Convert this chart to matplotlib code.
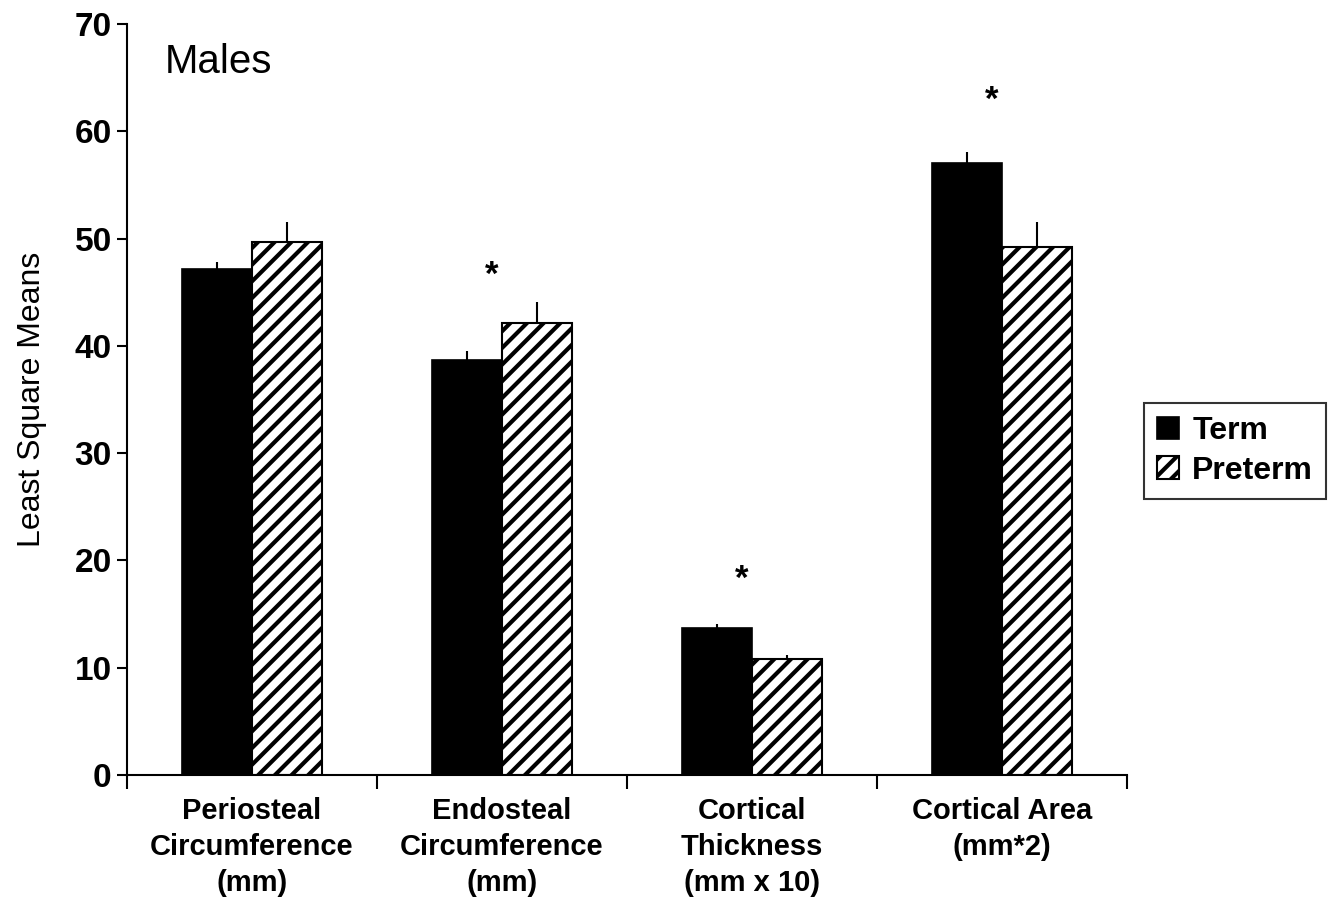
import matplotlib
matplotlib.use("Agg")
import matplotlib.pyplot as plt
import numpy as np

plt.rcParams['font.family'] = ['Liberation Sans', 'DejaVu Sans']
plt.rcParams['hatch.linewidth'] = 3.0

categories = ["Periosteal\nCircumference\n(mm)", "Endosteal\nCircumference\n(mm)",
              "Cortical\nThickness\n(mm x 10)", "Cortical Area\n(mm*2)"]
term_means = [47.2, 38.7, 13.7, 57.0]
term_err = [0.6, 0.8, 0.4, 1.1]
preterm_means = [49.7, 42.1, 10.8, 49.2]
preterm_err = [1.8, 2.0, 0.4, 2.3]
significant = [False, True, True, True]
star_y = [0, 46.6, 18.2, 62.9]
yticks = [0, 10, 20, 30, 40, 50, 60, 70]

fig = plt.figure(figsize=(13.38, 9.09), dpi=100)
ax = fig.add_axes([127 / 1338, 1 - 775 / 909, 1000 / 1338, (775 - 24) / 909])

x = np.arange(len(categories)) + 0.5
w = 0.28
ax.bar(x - w / 2, term_means, width=w, color='black', edgecolor='black',
       linewidth=1.2, label='Term', zorder=2)
ax.bar(x + w / 2, preterm_means, width=w, color='white', edgecolor='black',
       hatch='//', linewidth=1.5, label='Preterm', zorder=2)

# upper-only error whiskers
ax.errorbar(x - w / 2, term_means, yerr=[np.zeros(4), term_err], fmt='none',
            ecolor='black', elinewidth=1.5, capsize=0, zorder=3)
ax.errorbar(x + w / 2, preterm_means, yerr=[np.zeros(4), preterm_err], fmt='none',
            ecolor='black', elinewidth=1.5, capsize=0, zorder=3)

for xi, sig, sy in zip(x, significant, star_y):
    if sig:
        ax.text(xi - 0.04, sy, '*', ha='center', va='center', fontsize=25,
                fontweight='bold')

ax.set_xlim(0, 4)
ax.set_ylim(0, 70)
ax.set_yticks(yticks)
ax.set_yticklabels([str(t) for t in yticks], fontsize=24, fontweight='bold')
ax.set_xticks(x)
ax.set_xticklabels(categories, fontsize=21, fontweight='bold', linespacing=1.35)
ax.set_xticks(np.arange(5), minor=True)
ax.tick_params(axis='x', which='major', length=0, pad=16)
ax.tick_params(axis='x', which='minor', length=10, width=1.5, direction='out')
ax.tick_params(axis='y', length=7, width=1.5, direction='out', pad=4)

for s in ['top', 'right']:
    ax.spines[s].set_visible(False)
for s in ['left', 'bottom']:
    ax.spines[s].set_linewidth(1.5)

ax.set_ylabel('Least Square Means', fontsize=23, labelpad=20)
ax.text(0.15, 66.5, 'Males', fontsize=29, ha='left', va='center')

leg = fig.legend(loc='center', bbox_to_anchor=(1235 / 1338, 1 - 451 / 909),
                 prop={'weight': 'bold', 'size': 23},
                 frameon=True, fancybox=False, edgecolor='black',
                 handlelength=0.7, handleheight=0.7, handletextpad=0.4,
                 borderpad=0.4, labelspacing=0.3)
leg.get_frame().set_linewidth(1.5)

fig.savefig('out.png', dpi=100, facecolor='white')
